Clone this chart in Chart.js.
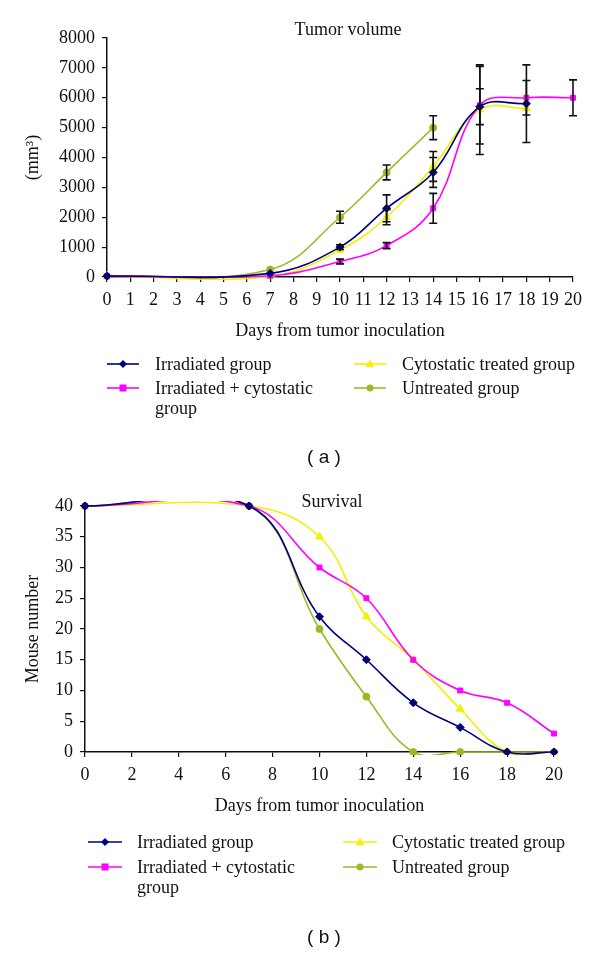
<!DOCTYPE html>
<html>
<head>
<meta charset="utf-8">
<script src="https://cdn.jsdelivr.net/npm/chart.js@4.4.1/dist/chart.umd.min.js"></script>
<style>
  body { margin: 0; background: #fff; width: 600px; height: 953px; position: relative; overflow: hidden; }
  canvas { position: absolute; left: 0; }
  #c1 { top: 0; }
  #c2 { top: 470px; }
  .legend { position: absolute; display: grid; grid-template-rows: auto auto; grid-auto-flow: column; row-gap: 4px;
            font-family: "Liberation Serif", serif; font-size: 18px; line-height: 20px; color: #111; }
  .item { display: flex; align-items: flex-start; }
  .item svg { flex: none; }
  .item span { max-width: 185px; }
  .cap { position: absolute; width: 100px; text-align: center; font-family: "Liberation Sans", Arial, sans-serif; font-size: 19px; color: #111; }
</style>
</head>
<body>
<canvas id="c1" width="600" height="470"></canvas>
<div class="legend" id="leg1" style="left:107px; top:354px; grid-template-columns:247px auto;"></div>
<div class="cap" style="left:274px; top:446px;">( a )</div>
<canvas id="c2" width="600" height="483"></canvas>
<div class="legend" id="leg2" style="left:88px; top:832px; grid-template-columns:255px auto; row-gap:5px;"></div>
<div class="cap" style="left:274px; top:926px;">( b )</div>
<script>
// Tage nach Tumorinokulation
const days = [0, 7, 10, 12, 14, 16, 18, 20];
const seriesNames = ['Irradiated group', 'Irradiated + cytostatic group', 'Cytostatic treated group', 'Untreated group'];

// (a) Tumorvolumen in mm3
const volIrradiated = [30, 120, 1000, 2300, 3500, 5700, 5800, null];
const volIrrCyto    = [30, 40, 520, 1050, 2300, 5750, 6000, 6000];
const volCyto       = [30, 20, 900, 2000, 3700, 5600, 5650, null];
const volUntreated  = [30, 250, 2000, 3500, 5000, null, null, null];
// Fehlerbalken (+/-)
const errIrradiated = [0, 0, 80, 450, 500, 600, 1300, null];
const errIrrCyto    = [0, 0, 80, 100, 500, 1300, 575, 600];
const errCyto       = [0, 0, 0, 250, 500, 1500, 0, null];
const errUntreated  = [0, 0, 200, 250, 400, null, null, null];

// (b) Überleben: Anzahl Mäuse
const survIrradiated = [40, 40, 22, 15, 8, 4, 0, 0];
const survIrrCyto    = [40, 40, 30, 25, 15, 10, 8, 3];
const survCyto       = [40, 40, 35, 22, 15, 7, 0, 0];
const survUntreated  = [40, 40, 20, 9, 0, 0, 0, 0];

const styles = [
  { color: '#000080', point: 'rectRot', r: 4 },
  { color: '#ff00ff', point: 'rect', r: 3.5 },
  { color: '#f5f000', point: 'triangle', r: 4.5 },
  { color: '#99bb22', point: 'circle', r: 3.5 }
];

const serif = '"Liberation Serif", "Times New Roman", serif';

function makeDataset(i, values, errors) {
  const s = styles[i];
  return {
    label: seriesNames[i],
    data: days.map((d, k) => ({ x: d, y: values[k] })),
    errors: errors,
    borderColor: s.color,
    backgroundColor: s.color,
    borderWidth: 1.6,
    pointStyle: s.point,
    pointRadius: s.r,
    pointBorderWidth: 1,
    tension: 0.4,
    capBezierPoints: false,
    spanGaps: false,
    clip: { left: 5, top: 5, right: 5, bottom: 3 }
  };
}

// Fehlerbalken über die Skalen zeichnen
const errorBars = {
  id: 'errorBars',
  afterDatasetsDraw(chart) {
    const ctx = chart.ctx, xs = chart.scales.x, ys = chart.scales.y;
    ctx.save();
    ctx.strokeStyle = '#111';
    ctx.lineWidth = 1.6;
    chart.data.datasets.forEach(ds => {
      if (!ds.errors) return;
      ds.data.forEach((p, i) => {
        const e = ds.errors[i];
        if (p.y == null || !e) return;
        const x = xs.getPixelForValue(p.x);
        const y1 = ys.getPixelForValue(p.y - e);
        const y2 = ys.getPixelForValue(p.y + e);
        ctx.beginPath();
        ctx.moveTo(x, y1); ctx.lineTo(x, y2);
        ctx.moveTo(x - 4, y1); ctx.lineTo(x + 4, y1);
        ctx.moveTo(x - 4, y2); ctx.lineTo(x + 4, y2);
        ctx.stroke();
      });
    });
    ctx.restore();
  }
};

// Titel innerhalb der Grafik
const innerTitle = {
  id: 'innerTitle',
  afterDraw(chart, args, opts) {
    const ctx = chart.ctx;
    ctx.save();
    ctx.font = '18px ' + serif;
    ctx.fillStyle = '#111';
    ctx.textAlign = 'center';
    ctx.textBaseline = 'middle';
    ctx.fillText(opts.text, opts.x, opts.y);
    ctx.restore();
  }
};

function makeChart(id, datasets, o) {
  return new Chart(document.getElementById(id), {
    type: 'line',
    data: { datasets: datasets },
    plugins: [errorBars, innerTitle],
    options: {
      responsive: false,
      animation: false,
      layout: { padding: o.padding },
      plugins: {
        legend: { display: false },
        tooltip: { enabled: false },
        innerTitle: o.title
      },
      scales: {
        x: {
          type: 'linear', min: 0, max: 20,
          ticks: { stepSize: o.xStep, autoSkip: false, maxRotation: 0, padding: 7, color: '#111', font: { family: serif, size: 18 } },
          grid: { drawOnChartArea: false, drawTicks: true, tickLength: 5, color: '#111', lineWidth: 1.2 },
          border: { color: '#111', width: 1.5 },
          title: { display: true, text: 'Days from tumor inoculation', color: '#111', font: { family: serif, size: 18 }, padding: { top: 4, bottom: 0 } },
          afterFit: s => { s.height = 65; }
        },
        y: {
          min: 0, max: o.yMax,
          ticks: { stepSize: o.yStep, padding: 7, color: '#111', font: { family: serif, size: 18 }, callback: v => String(v) },
          grid: { drawOnChartArea: false, drawTicks: true, tickLength: 5, color: '#111', lineWidth: 1.2 },
          border: { color: '#111', width: 1.5 },
          title: { display: true, text: o.yTitle, color: '#111', font: { family: serif, size: 18 }, padding: { top: 22, bottom: 0 } },
          afterFit: s => { s.width = o.yWidth; }
        }
      }
    }
  });
}

function symbolSvg(ds, w) {
  const c = ds.borderColor, cx = w / 2, cy = 10;
  let m;
  if (ds.pointStyle === 'rectRot') m = `<polygon points="${cx},${cy - 4} ${cx + 4},${cy} ${cx},${cy + 4} ${cx - 4},${cy}" fill="${c}"/>`;
  else if (ds.pointStyle === 'rect') m = `<rect x="${cx - 3.5}" y="${cy - 3.5}" width="7" height="7" fill="${c}"/>`;
  else if (ds.pointStyle === 'triangle') m = `<polygon points="${cx},${cy - 4.5} ${cx + 4.5},${cy + 3} ${cx - 4.5},${cy + 3}" fill="${c}"/>`;
  else m = `<circle cx="${cx}" cy="${cy}" r="3.5" fill="${c}"/>`;
  return `<svg width="${w}" height="20"><line x1="0" y1="10" x2="${w}" y2="10" stroke="${c}" stroke-width="1.6"/>${m}</svg>`;
}

function buildLegend(chart, elId, w, gap) {
  const el = document.getElementById(elId);
  chart.data.datasets.forEach(ds => {
    const item = document.createElement('div');
    item.className = 'item';
    item.innerHTML = symbolSvg(ds, w) + `<span style="margin-left:${gap}px">${ds.label}</span>`;
    el.appendChild(item);
  });
}

const chartA = makeChart('c1', [
  makeDataset(0, volIrradiated, errIrradiated),
  makeDataset(1, volIrrCyto, errIrrCyto),
  makeDataset(2, volCyto, errCyto),
  makeDataset(3, volUntreated, errUntreated)
], {
  padding: { left: 0, top: 38, right: 27, bottom: 128 },
  yMax: 8000, yStep: 1000, xStep: 1, yWidth: 107, yTitle: '(mm³)',
  title: { text: 'Tumor volume', x: 348, y: 30 }
});

const chartB = makeChart('c2', [
  makeDataset(0, survIrradiated),
  makeDataset(1, survIrrCyto),
  makeDataset(2, survCyto),
  makeDataset(3, survUntreated)
], {
  padding: { left: 0, top: 36, right: 46, bottom: 136 },
  yMax: 40, yStep: 5, xStep: 2, yWidth: 85, yTitle: 'Mouse number',
  title: { text: 'Survival', x: 332, y: 32 }
});

buildLegend(chartA, 'leg1', 32, 16);
buildLegend(chartB, 'leg2', 34, 15);
</script>
</body>
</html>
